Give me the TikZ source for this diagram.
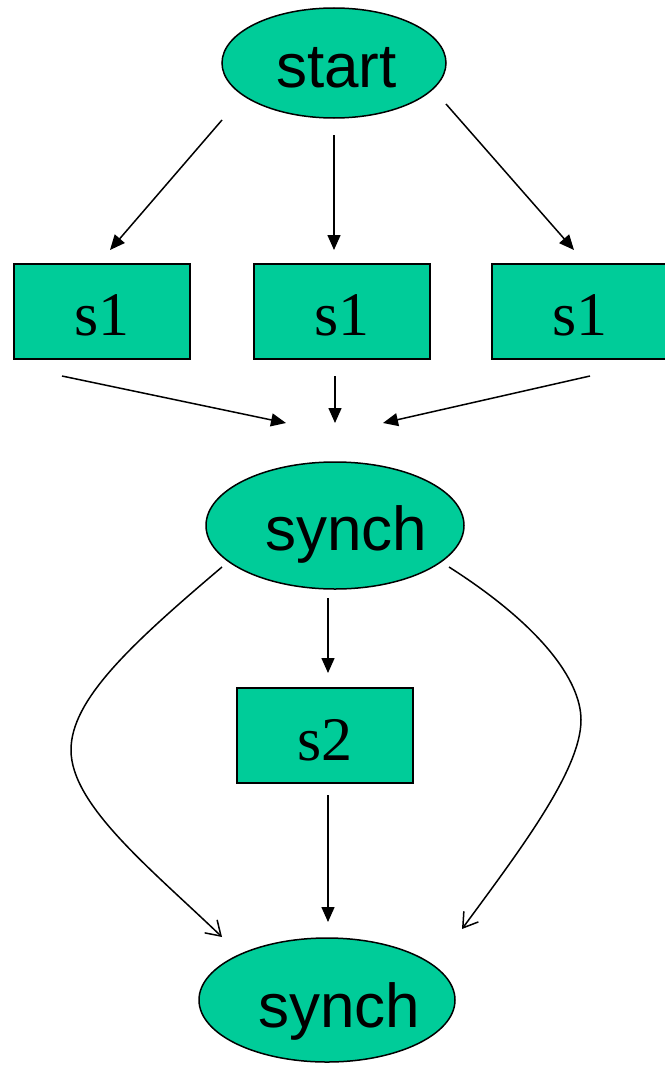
\documentclass[tikz,border=0pt]{standalone}
\usepackage{fontspec}
\setmainfont{Liberation Serif}
\newfontfamily\labelsans{Liberation Sans}
\usetikzlibrary{arrows.meta,shapes.geometric}
\definecolor{nodegreen}{RGB}{0,204,153}
\tikzset{
  oval/.style={ellipse, draw=black, line width=1.5pt, fill=nodegreen, inner sep=0pt},
  stepbox/.style={rectangle, draw=black, line width=1.6pt, fill=nodegreen, inner sep=0pt},
  ovaltext/.style={anchor=base, inner sep=0pt, font=\labelsans\fontsize{62}{70}\selectfont},
  boxtext/.style={anchor=base, inner sep=0pt, font=\fontsize{62}{70}\selectfont},
  flow/.style={line width=1.5pt, -{Triangle[length=15pt,width=13pt]}},
  loop/.style={line width=1.5pt, -{Straight Barb[length=14pt,width=18pt,line width=1.5pt]}},
}
\begin{document}
\begin{tikzpicture}[x=1pt,y=-1pt]
  \useasboundingbox (0,0) rectangle (664,1065);

  % nodes
  \node[oval, minimum width=224pt, minimum height=110pt] (start) at (334,63) {};
  \node[ovaltext] (startlbl) at (336.5,88) {start};

  \node[stepbox, minimum width=176pt, minimum height=95pt] (s1a) at (102,311.5) {};
  \node[stepbox, minimum width=176pt, minimum height=95pt] (s1b) at (342,311.5) {};
  \node[stepbox, minimum width=176pt, minimum height=95pt] (s1c) at (580,311.5) {};
  \node[boxtext] (s1alb) at (102,335) {s1};
  \node[boxtext] (s1blb) at (342,335) {s1};
  \node[boxtext] (s1clb) at (580,335) {s1};

  \node[oval, minimum width=258pt, minimum height=127pt] (synchA) at (335,525.5) {};
  \node[ovaltext] (synchAlb) at (346.5,550) {synch};

  \node[stepbox, minimum width=176pt, minimum height=95pt] (s2) at (325,735.5) {};
  \node[boxtext] (s2lb) at (325,760) {s2};

  \node[oval, minimum width=256pt, minimum height=124pt] (synchB) at (327,1000) {};
  \node[ovaltext] (synchBlb) at (339,1027) {synch};

  % free ends of the connectors
  \coordinate (stL) at (222,120);  \coordinate (toL) at (110,250);
  \coordinate (stM) at (334,135);  \coordinate (toM) at (334,250);
  \coordinate (stR) at (446,104);  \coordinate (toR) at (574,250);

  \coordinate (fromL) at (62,376);  \coordinate (inL) at (286,423);
  \coordinate (fromM) at (335,376); \coordinate (inM) at (335,423);
  \coordinate (fromR) at (590,376); \coordinate (inR) at (383,423);

  \coordinate (sA) at (328,598);   \coordinate (sAto) at (328,673);
  \coordinate (sB) at (328,795);   \coordinate (sBto) at (328,922);

  \coordinate (cL) at (222,567);   \coordinate (cLto) at (222,937);
  \coordinate (cR) at (449,567);   \coordinate (cRto) at (462,929);

  % fork from start
  \draw[flow] (stL) -- (toL);
  \draw[flow] (stM) -- (toM);
  \draw[flow] (stR) -- (toR);

  % join into synch
  \draw[flow] (fromL) -- (inL);
  \draw[flow] (fromM) -- (inM);
  \draw[flow] (fromR) -- (inR);

  % through s2
  \draw[flow] (sA) -- (sAto);
  \draw[flow] (sB) -- (sBto);

  % bypass curves
  \draw[loop] (cL) .. controls (130,645) and (71,700) .. (71,750)
                   .. controls (71,805) and (150,868) .. (cLto);
  \draw[loop] (cR) .. controls (540,625) and (581,680) .. (581,720)
                   .. controls (581,770) and (520,850) .. (cRto);
\end{tikzpicture}
\end{document}
